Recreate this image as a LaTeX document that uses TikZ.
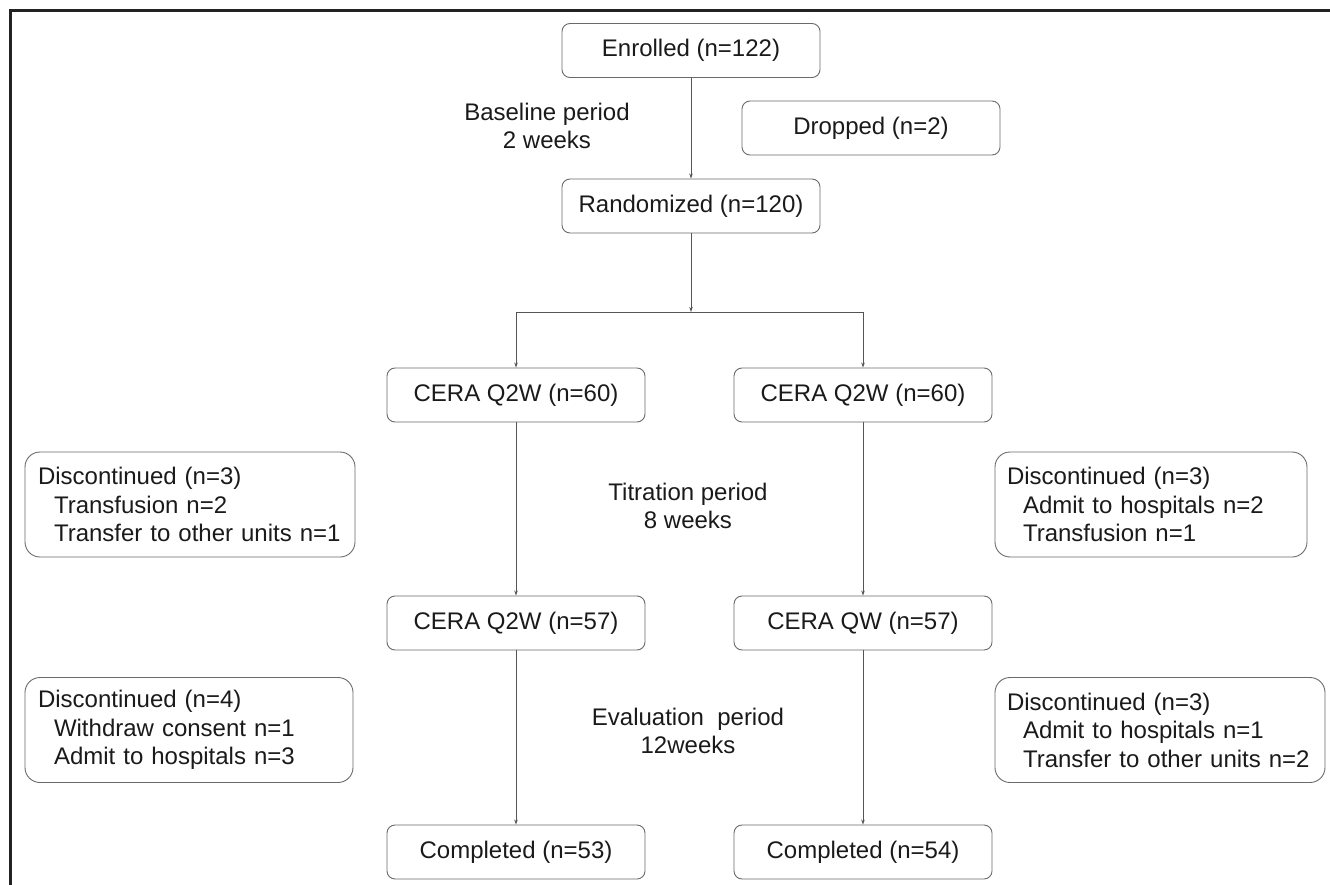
\documentclass[tikz,border=0pt]{standalone}
\usepackage{fontspec}
\setmainfont{Liberation Sans}
\usetikzlibrary{arrows.meta}
\definecolor{boxline}{HTML}{6A6A6A}
\definecolor{conn}{HTML}{555555}
\definecolor{txt}{HTML}{1A1A1A}
\definecolor{frame}{HTML}{222222}
\newcommand{\subline}[1]{\mbox{\hspace*{16pt}#1}}
\begin{document}
\begin{tikzpicture}[x=1pt,y=-1pt,
  every node/.style={text=txt,font=\fontsize{24}{28.5}\selectfont},
  stage/.style={draw=boxline,line width=0.9pt,rounded corners=8pt,minimum width=258pt,minimum height=54pt,inner sep=0pt},
  dropbox/.style={draw=boxline,line width=0.9pt,rounded corners=15pt,minimum height=105pt,inner xsep=13pt,inner ysep=0pt,align=left},
  label/.style={align=center,inner sep=0pt},
  conn/.style={draw=conn,line width=0.8pt},
  arr/.style={conn,-{Stealth[length=5pt,width=3.5pt]}}
]
\useasboundingbox (0,0) rectangle (1330,885);
% frame
\draw[frame,line width=2.5pt] (10.5,885) -- (10.5,10.5) -- (1330,10.5);

% main boxes
\node[stage] (enr) at (691,50.5) {Enrolled (n=122)};
\node[stage] (drop) at (871,128) {Dropped (n=2)};
\node[stage] (rand) at (691,206) {Randomized (n=120)};
\node[stage] (l1) at (516,395) {CERA Q2W (n=60)};
\node[stage] (r1) at (863,395) {CERA Q2W (n=60)};
\node[stage] (l2) at (516,623) {CERA Q2W (n=57)};
\node[stage] (r2) at (863,623) {CERA QW (n=57)};
\node[stage] (l3) at (516,852) {Completed (n=53)};
\node[stage] (r3) at (863,852) {Completed (n=54)};

% discontinued boxes
\node[dropbox,text width=304pt] (dl1) at (190,504.5) {Discontinued (n=3)\\\subline{Transfusion n=2}\\\subline{Transfer to other units n=1}};
\node[dropbox,text width=288pt,inner xsep=12pt] (dr1) at (1151,504.5) {Discontinued (n=3)\\\subline{Admit to hospitals n=2}\\\subline{Transfusion n=1}};
\node[dropbox,text width=302pt] (dl2) at (189,730) {Discontinued (n=4)\\\subline{Withdraw consent n=1}\\\subline{Admit to hospitals n=3}};
\node[dropbox,text width=306pt,inner xsep=12pt] (dr2) at (1160,730) {Discontinued (n=3)\\\subline{Admit to hospitals n=1}\\\subline{Transfer to other units n=2}};

% period labels
\node[label] (base) at (547,126) {Baseline period\\2 weeks};
\node[label] (titr) at (688,506) {Titration period\\8 weeks};
\node[label] (eval) at (688,731) {Evaluation\ \ period\\12weeks};

% connectors
\coordinate (split) at (691,312);
\coordinate (sl) at (516,312);
\coordinate (sr) at (863,312);
\draw[arr] (enr.south) -- (rand.north);
\draw[arr] (rand.south) -- (split);
\draw[conn] (sl) -- (sr);
\draw[arr] (sl) -- (l1.north);
\draw[arr] (sr) -- (r1.north);
\draw[arr] (l1.south) -- (l2.north);
\draw[arr] (r1.south) -- (r2.north);
\draw[arr] (l2.south) -- (l3.north);
\draw[arr] (r2.south) -- (r3.north);
\end{tikzpicture}
\end{document}
